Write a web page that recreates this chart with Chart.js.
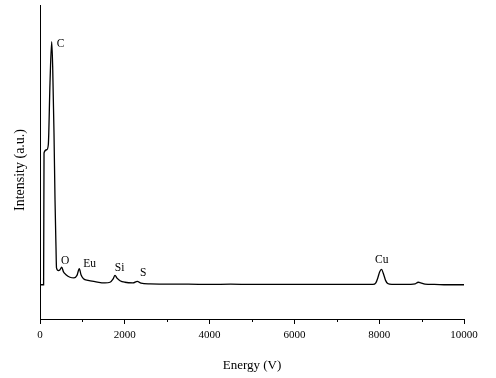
<!DOCTYPE html>
<html><head><meta charset="utf-8">
<script src="https://cdn.jsdelivr.net/npm/chart.js@4/dist/chart.umd.min.js"></script>
<style>html,body{margin:0;padding:0;background:#fff}</style>
</head><body>
<canvas id="c" width="496" height="378"></canvas>
<script>
const energy = [0, 85, 95, 158, 196, 236, 276, 299, 330, 354, 377, 389, 436, 472, 512, 554, 613, 707, 802, 872, 927, 967, 1026, 1132, 1297, 1533, 1651, 1721, 1769, 1816, 1887, 2004, 2193, 2294, 2382, 2594, 3000, 3500, 4000, 4500, 5000, 5500, 6000, 6500, 7000, 7500, 7850, 7920, 7970, 8010, 8054, 8100, 8150, 8200, 8300, 8600, 8850, 8920, 8980, 9080, 9300, 9600, 10000];
const intensity = [10.9, 10.9, 52.9, 53.9, 55.5, 75.2, 88.3, 80.4, 59.3, 38.0, 23.0, 16.3, 15.4, 15.7, 16.5, 15.0, 14.1, 13.3, 13.1, 13.9, 16.0, 14.1, 12.8, 12.3, 11.9, 11.5, 11.7, 12.7, 13.9, 13.0, 12.2, 11.7, 11.5, 12.0, 11.4, 11.2, 11.1, 11.1, 11.0, 11.1, 11.0, 11.0, 11.0, 11.0, 11.0, 11.0, 11.0, 11.5, 13.2, 15.0, 15.8, 14.4, 12.3, 11.3, 11.0, 11.0, 11.2, 11.7, 11.5, 11.1, 11.0, 10.9, 10.9];
const peakNames = ['C', 'O', 'Eu', 'Si', 'S', 'Cu'];
const peakLabelEnergy = [485, 591, 1170, 1879, 2435, 8061];
const peakLabelIntensity = [87.6, 18.5, 17.4, 16.4, 14.6, 18.9];
const minorTicks = [1000, 3000, 5000, 7000, 9000];
const xTitle = 'Energy (V)';
const yTitle = 'Intensity (a.u.)';

const serif = '"Liberation Serif", "Times New Roman", serif';

const extras = {
  id: 'extras',
  afterDraw(chart) {
    const ctx = chart.ctx;
    const xs = chart.scales.x, ys = chart.scales.y;
    const area = chart.chartArea;
    ctx.save();
    ctx.strokeStyle = '#000';
    ctx.lineWidth = 1;
    minorTicks.forEach(v => {
      const px = Math.round(xs.getPixelForValue(v)) + 0.5;
      ctx.beginPath(); ctx.moveTo(px, area.bottom); ctx.lineTo(px, area.bottom + 3); ctx.stroke();
    });
    ctx.fillStyle = '#000';
    ctx.font = '11.5px ' + serif;
    ctx.textAlign = 'center';
    ctx.textBaseline = 'middle';
    peakNames.forEach((n, i) => {
      ctx.fillText(n, xs.getPixelForValue(peakLabelEnergy[i]), ys.getPixelForValue(peakLabelIntensity[i]));
    });
    // y-axis title
    ctx.font = '14px ' + serif;
    ctx.translate(area.left - 20, (area.top + area.bottom) / 2 + 8);
    ctx.rotate(-Math.PI / 2);
    ctx.fillText(yTitle, 0, 0);
    ctx.restore();
  }
};

new Chart(document.getElementById('c'), {
  type: 'line',
  data: {
    datasets: [{
      data: energy.map((e, i) => ({x: e, y: intensity[i]})),
      borderColor: '#000',
      borderWidth: 1.3,
      pointRadius: 0,
      cubicInterpolationMode: 'monotone',
      fill: false
    }]
  },
  options: {
    responsive: false,
    animation: false,
    devicePixelRatio: 1,
    layout: {padding: {top: 5, right: 32, left: 0, bottom: 0}},
    plugins: {legend: {display: false}, tooltip: {enabled: false}},
    scales: {
      x: {
        type: 'linear', min: 0, max: 10000,
        afterFit: s => { s.height = 59; },
        ticks: {stepSize: 2000, color: '#000', font: {family: serif, size: 11}, padding: 5, maxRotation: 0,
                callback: v => String(v)},
        grid: {display: true, drawOnChartArea: false, drawTicks: true, tickLength: 5, color: '#000', lineWidth: 1},
        border: {display: true, color: '#000', width: 1},
        title: {display: true, text: xTitle, color: '#000', font: {family: serif, size: 13}, padding: {top: 0, bottom: 5}}
      },
      y: {
        type: 'linear', min: 0, max: 100,
        afterFit: s => { s.width = 40; },
        ticks: {display: false},
        grid: {display: false},
        border: {display: true, color: '#000', width: 1},
        title: {display: false}
      }
    }
  },
  plugins: [extras]
});
</script>
</body></html>
